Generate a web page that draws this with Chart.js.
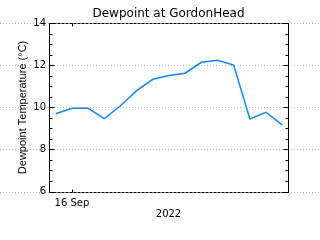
<!DOCTYPE html>
<html>
<head>
<meta charset="utf-8">
<script src="https://cdn.jsdelivr.net/npm/chart.js@4"></script>
<style>
	html, body { margin: 0; padding: 0; background: #fff; }
	canvas { display: block; }
</style>
</head>
<body>
<canvas id="myChart" width="320" height="240"></canvas>
<script>
// hours relative to 16 Sep 2022 00:00
const hours = [-1, 0, 1, 2, 3, 4, 5, 6, 7, 8, 9, 10, 11, 12, 13];
const dewpoint = [9.70, 9.96, 9.96, 9.47, 10.08, 10.8, 11.34, 11.52, 11.63, 12.15, 12.25, 12.02, 9.45, 9.77, 9.17];
const xTicks = [0];
const xTickLabels = ["16 Sep"];
const yTicks = [6, 8, 10, 12, 14];

document.addEventListener("DOMContentLoaded", function () {
	// grid lines run across the whole canvas, frame and inward ticks on top
	const framePlugin = {
		id: "frame",
		beforeDraw(chart) {
			const ctx = chart.ctx;
			const y = chart.scales.y;
			ctx.save();
			ctx.fillStyle = "#fff";
			ctx.fillRect(0, 0, chart.width, chart.height);
			ctx.strokeStyle = "#bdbdbd";
			ctx.lineWidth = 1;
			ctx.setLineDash([1, 2]);
			for (let v of yTicks) {
				const py = Math.round(y.getPixelForValue(v)) + 0.5;
				ctx.beginPath();
				ctx.moveTo(0, py);
				ctx.lineTo(chart.width, py);
				ctx.stroke();
			}
			ctx.restore();
		},
		afterDraw(chart) {
			const ctx = chart.ctx;
			const a = chart.chartArea;
			const x = chart.scales.x;
			const y = chart.scales.y;
			const l = Math.round(a.left) + 0.5;
			const r = Math.round(a.right) + 0.5;
			const t = Math.round(a.top) + 0.5;
			const b = Math.round(a.bottom) + 0.5;
			ctx.save();
			ctx.strokeStyle = "#000";
			ctx.lineWidth = 1;
			ctx.setLineDash([3, 1]);
			ctx.beginPath();
			ctx.moveTo(l, t);
			ctx.lineTo(r, t);
			ctx.moveTo(l, b);
			ctx.lineTo(r, b);
			ctx.stroke();
			ctx.setLineDash([]);
			ctx.beginPath();
			ctx.moveTo(l, t);
			ctx.lineTo(l, b);
			ctx.moveTo(r, t);
			ctx.lineTo(r, b);
			// y ticks, major every 2, minor every 0.5
			for (let v = 6; v <= 14; v += 0.5) {
				const py = Math.round(y.getPixelForValue(v)) + 0.5;
				const len = v % 2 === 0 ? 5 : 3;
				ctx.moveTo(l, py);
				ctx.lineTo(l + len, py);
				ctx.moveTo(r, py);
				ctx.lineTo(r - len, py);
			}
			for (let v of xTicks) {
				const px = Math.round(x.getPixelForValue(v)) + 0.5;
				ctx.moveTo(px, t);
				ctx.lineTo(px, t + 3);
				ctx.moveTo(px, b);
				ctx.lineTo(px, b - 3);
			}
			ctx.stroke();
			ctx.restore();
		},
	};

	const ctx = document.getElementById("myChart").getContext("2d");
	const myChart = new Chart(ctx, {
		type: "line",
		data: {
			datasets: [
				{
					label: "Dewpoint",
					data: hours.map((h, i) => ({ x: h, y: dewpoint[i] })),
					borderColor: "#1485ff",
					borderWidth: 1.5,
					pointRadius: 0,
					tension: 0,
					fill: false,
				},
			],
		},
		options: {
			responsive: false,
			devicePixelRatio: 1,
			animation: false,
			layout: {
				padding: { left: 0, right: 32, top: 0, bottom: 0 },
			},
			plugins: {
				legend: { display: false },
				tooltip: { enabled: false },
				title: {
					display: true,
					fullSize: false,
					text: "Dewpoint at GordonHead",
					color: "#000",
					font: { family: "DejaVu Sans", size: 12, weight: "normal" },
					padding: { top: 7, bottom: 2 },
				},
			},
			scales: {
				x: {
					type: "linear",
					min: -1.42,
					max: 13.36,
					grid: { display: false, drawTicks: false },
					border: { display: false },
					afterBuildTicks: function (scale) {
						scale.ticks = xTicks.map((v) => ({ value: v }));
					},
					afterFit: function (scale) {
						scale.height = 48.5;
					},
					ticks: {
						color: "#000",
						padding: 6,
						maxRotation: 0,
						font: { family: "DejaVu Sans", size: 10 },
						callback: function (value) {
							const i = xTicks.indexOf(value);
							return i >= 0 ? xTickLabels[i] : "";
						},
					},
					title: {
						display: true,
						text: "2022",
						color: "#000",
						font: { family: "DejaVu Sans", size: 10 },
						padding: { top: 0, bottom: 20 },
					},
				},
				y: {
					min: 6,
					max: 14,
					grid: { display: false, drawTicks: false },
					border: { display: false },
					afterBuildTicks: function (scale) {
						scale.ticks = yTicks.map((v) => ({ value: v }));
					},
					afterFit: function (scale) {
						scale.width = 49;
					},
					ticks: {
						color: "#000",
						padding: 3,
						font: { family: "DejaVu Sans", size: 10 },
					},
					title: {
						display: true,
						text: "Dewpoint Temperature (°C)",
						color: "#000",
						font: { family: "Liberation Sans", size: 11 },
						padding: { top: 16, bottom: 0 },
					},
				},
			},
		},
		plugins: [framePlugin],
	});
});
</script>
</body>
</html>
